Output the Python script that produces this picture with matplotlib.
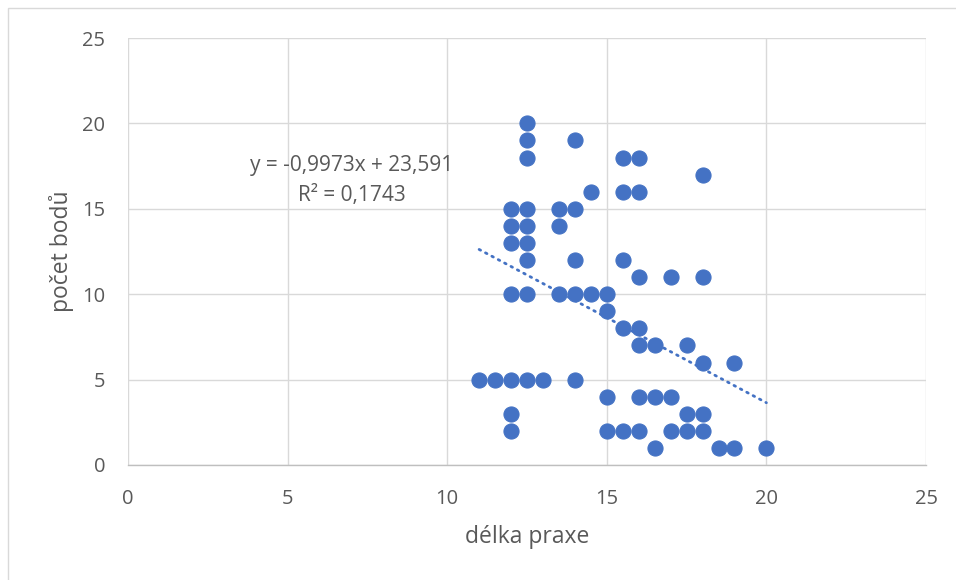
import matplotlib
matplotlib.use("Agg")
import matplotlib.pyplot as plt
from matplotlib.patches import Rectangle

# Years of practice (délka praxe) and points scored (počet bodů)
praxe = [11, 11.5,
         12, 12, 12, 12, 12, 12, 12,
         12.5, 12.5, 12.5, 12.5, 12.5, 12.5, 12.5, 12.5, 12.5,
         13,
         13.5, 13.5, 13.5,
         14, 14, 14, 14, 14,
         14.5, 14.5,
         15, 15, 15, 15,
         15.5, 15.5, 15.5, 15.5, 15.5,
         16, 16, 16, 16, 16, 16, 16,
         16.5, 16.5, 16.5,
         17, 17, 17,
         17.5, 17.5, 17.5,
         18, 18, 18, 18, 18,
         18.5,
         19, 19,
         20]
body = [5, 5,
        15, 14, 13, 10, 5, 3, 2,
        20, 19, 18, 15, 14, 13, 12, 10, 5,
        5,
        15, 14, 10,
        19, 15, 12, 10, 5,
        16, 10,
        10, 9, 4, 2,
        18, 16, 12, 8, 2,
        18, 16, 11, 8, 7, 4, 2,
        7, 4, 1,
        11, 4, 2,
        7, 3, 2,
        17, 11, 6, 3, 2,
        1,
        6, 1,
        1]

# Linear trend as reported in the equation label
slope = -0.9973
intercept = 23.591
r2 = 0.1743

x_ticks = [0, 5, 10, 15, 20, 25]
y_ticks = [0, 5, 10, 15, 20, 25]

blue = "#4472C4"
text_gray = "#595959"
grid_gray = "#D9D9D9"

plt.rcParams["font.family"] = ["Open Sans", "DejaVu Sans"]

W, H = 956, 580
fig = plt.figure(figsize=(W / 100, H / 100), dpi=100)
fig.patch.set_facecolor("white")
# outer chart frame
fig.patches.append(Rectangle((8 / W, -0.1), 1.2, 1 - 8 / H + 0.1,
                             transform=fig.transFigure, fill=False,
                             edgecolor="#D9D9D9", linewidth=1.0))

ax = fig.add_axes([128 / W, 1 - 465 / H, (926 - 128) / W, (465 - 38) / H])
ax.set_xlim(0, 25)
ax.set_ylim(0, 25)
ax.set_xticks(x_ticks)
ax.set_yticks(y_ticks)
ax.grid(True, color=grid_gray, linewidth=1.0, zorder=0)
ax.set_axisbelow(True)
for side in ["top", "right", "left"]:
    ax.spines[side].set_visible(False)
ax.spines["bottom"].set_color("#BFBFBF")
ax.spines["bottom"].set_linewidth(1.0)
ax.tick_params(length=0, labelsize=14.5, labelcolor=text_gray)
ax.tick_params(axis="x", pad=17)
ax.tick_params(axis="y", pad=16.5)

ax.scatter(praxe, body, s=118, color=blue, edgecolors=blue, linewidths=0.8, zorder=3)

x0, x1 = min(praxe), max(praxe)
ax.plot([x0, x1], [slope * x0 + intercept, slope * x1 + intercept],
        color=blue, linewidth=2.0, linestyle=(0, (0.6, 2.0)),
        dash_capstyle="round", zorder=2)

# equation and R² label, positioned in pixels from the top-left corner
eq = "y = {:.4f}x + {:.3f}".format(slope, intercept).replace(".", ",")
r2_text = "R² = {:.4f}".format(r2).replace(".", ",")
fig.text(352 / W, 1 - 165 / H, eq, fontsize=15, color=text_gray,
         ha="center", va="center")
fig.text(352 / W, 1 - 195 / H, r2_text, fontsize=15, color=text_gray,
         ha="center", va="center")

ax.set_xlabel("délka praxe", fontsize=16.5, color=text_gray, labelpad=12)
ax.set_ylabel("počet bodů", fontsize=16.5, color=text_gray, labelpad=6)

fig.savefig("out.png", dpi=100, facecolor="white")
